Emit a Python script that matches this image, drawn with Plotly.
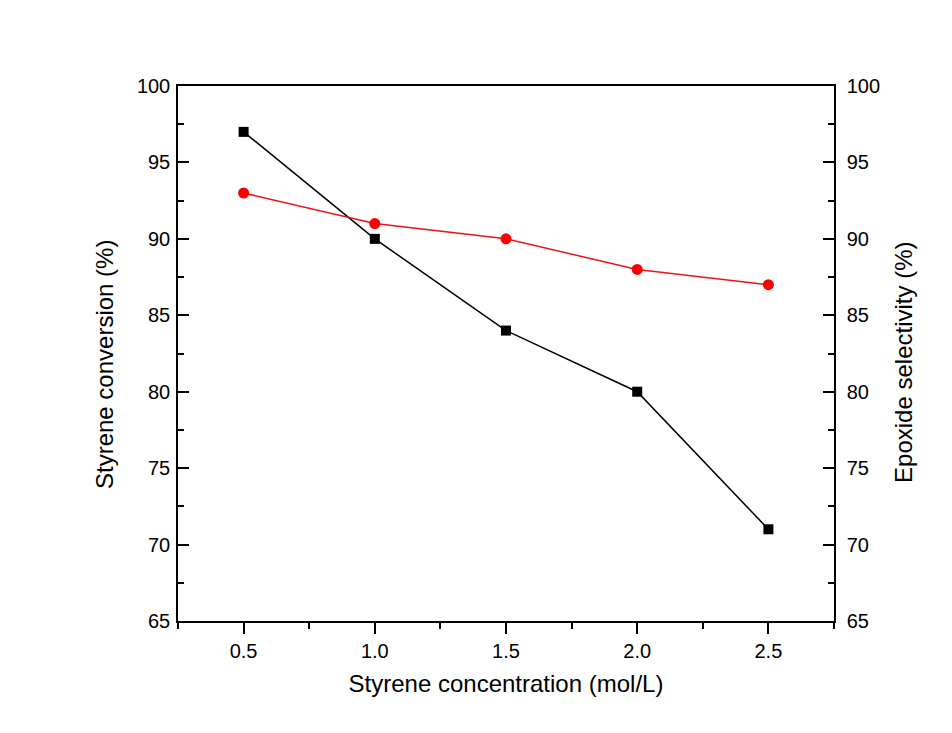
import plotly.graph_objects as go

concentration = [0.5, 1.0, 1.5, 2.0, 2.5]
conversion = [97, 90, 84, 80, 71]
selectivity = [93, 91, 90, 88, 87]
x_ticks = [0.5, 1.0, 1.5, 2.0, 2.5]
x_ticklabels = ["0.5", "1.0", "1.5", "2.0", "2.5"]
y_ticks = [65, 70, 75, 80, 85, 90, 95, 100]

fig = go.Figure()
fig.add_trace(go.Scatter(
    x=concentration, y=conversion, mode="lines+markers",
    line=dict(color="black", width=1.5),
    marker=dict(symbol="square", size=10, color="black"),
    yaxis="y", showlegend=False))
fig.add_trace(go.Scatter(
    x=concentration, y=selectivity, mode="lines+markers",
    line=dict(color="#e8141c", width=1.5),
    marker=dict(symbol="circle", size=11, color="#ff0000"),
    yaxis="y2", showlegend=False))

font = "Liberation Sans, Arial, sans-serif"
tick_common = dict(ticklen=11, tickwidth=1.5, tickcolor="black")
fig.update_layout(
    width=952, height=733,
    margin=dict(l=178, r=118, t=86, b=112),
    paper_bgcolor="white", plot_bgcolor="white",
    font=dict(family=font, color="black", size=20),
    xaxis=dict(
        range=[0.25, 2.75], tickvals=x_ticks, ticktext=x_ticklabels,
        ticks="outside", **tick_common,
        minor=dict(ticks="outside", ticklen=6, tickwidth=1.5, tickcolor="black",
                   tickvals=[0.25, 0.75, 1.25, 1.75, 2.25, 2.75]),
        showline=True, linecolor="black", linewidth=1.5, mirror=True,
        showgrid=False, zeroline=False,
        title=dict(text="Styrene concentration (mol/L)", font=dict(size=24), standoff=14),
        tickfont=dict(size=20),
    ),
    yaxis=dict(
        range=[65, 100], tickvals=y_ticks,
        ticks="inside", **tick_common,
        minor=dict(ticks="inside", ticklen=6, tickwidth=1.5, tickcolor="black", dtick=2.5, tick0=65),
        showline=True, linecolor="black", linewidth=1.5,
        showgrid=False, zeroline=False,
        tickfont=dict(size=20), ticklabelstandoff=2,
    ),
    yaxis2=dict(
        range=[65, 100], tickvals=y_ticks, overlaying="y", side="right",
        ticks="inside", **tick_common,
        minor=dict(ticks="inside", ticklen=6, tickwidth=1.5, tickcolor="black", dtick=2.5, tick0=65),
        showline=True, linecolor="black", linewidth=1.5,
        showgrid=False, zeroline=False,
        tickfont=dict(size=20), ticklabelstandoff=7,
    ),
    annotations=[
        dict(text="Styrene conversion (%)", xref="paper", yref="paper",
             x=-0.1128, y=0.4785, xanchor="center", yanchor="middle",
             textangle=-90, showarrow=False, font=dict(size=24)),
        dict(text="Epoxide selectivity (%)", xref="paper", yref="paper",
             x=1.105, y=0.484, xanchor="center", yanchor="middle",
             textangle=-90, showarrow=False, font=dict(size=24)),
    ],
)
fig.write_html("out.html")
